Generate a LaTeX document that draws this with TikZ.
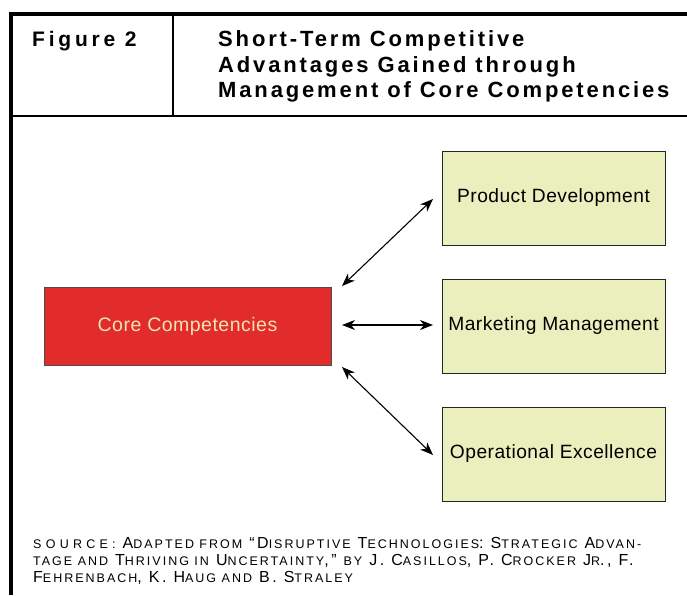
\documentclass[tikz,border=0pt]{standalone}
\usepackage{fontspec}
\setmainfont{Liberation Sans}
\newfontfamily\headfont[LetterSpace=13]{Liberation Sans}
\newfontfamily\figfont[LetterSpace=18]{Liberation Sans}
\newfontfamily\boxfont[LetterSpace=2.5]{Liberation Sans}
\newfontfamily\notefont[LetterSpace=16]{Liberation Sans}
\newfontfamily\widefont[LetterSpace=34]{Liberation Sans}
\usetikzlibrary{arrows.meta}
\definecolor{corered}{HTML}{E22B2B}
\definecolor{corecream}{HTML}{F3E2B3}
\definecolor{paleyel}{HTML}{EBEFBE}
\newcommand\lc[1]{{\fontsize{12.5}{13}\selectfont\MakeUppercase{#1}}}
\begin{document}
\begin{tikzpicture}[x=1pt,y=-1pt,
  frameline/.style={line width=4pt,black},
  ruleline/.style={line width=1.6pt,black},
  titletext/.style={anchor=base west,inner sep=0pt,font=\headfont\bfseries\fontsize{22}{22}\selectfont},
  corebox/.style={draw=black!70,line width=0.8pt,fill=corered,text=corecream,
    minimum width=287pt,minimum height=78pt,font=\boxfont\fontsize{19.5}{19.5}\selectfont},
  outbox/.style={draw=black!85,line width=1pt,fill=paleyel,
    minimum width=223pt,minimum height=94pt,font=\boxfont\fontsize{19.2}{19.2}\selectfont},
  link/.style={line width=1.1pt,{Stealth[length=13pt,width=10pt,inset=4pt]}-{Stealth[length=13pt,width=10pt,inset=4pt]}},
  srctext/.style={anchor=base west,inner sep=0pt,font=\notefont\fontsize{16}{16}\selectfont}]
\useasboundingbox (0,0) rectangle (687,595);
\fill[white] (0,0) rectangle (687,595);

% heading frame
\draw[frameline] (11,595) -- (11,14) -- (687,14);
\draw[ruleline] (11,116) -- (687,116);
\draw[ruleline] (173,14) -- (173,116);

\node[titletext,font=\figfont\bfseries\fontsize{21}{21}\selectfont] (fig) at (32,46) {Figure 2};
\node[titletext] (t1) at (218,46) {Short-Term Competitive};
\node[titletext] (t2) at (218,72) {Advantages Gained through};
\node[titletext] (t3) at (218,97) {Management of Core Competencies};

% boxes
\node[corebox] (core) at (187.5,326) {Core Competencies};
\node[outbox] (pd) at (553.5,198) {Product Development};
\node[outbox] (mm) at (553.5,326) {Marketing Management};
\node[outbox] (oe) at (553.5,454) {Operational Excellence};

% connector end points
\coordinate (c1) at (342,286);
\coordinate (c2) at (342,325);
\coordinate (c3) at (342,367);
\coordinate (p1) at (433,199);
\coordinate (p2) at (433,325);
\coordinate (p3) at (433,455);
\draw[link] (c1) -- (p1);
\draw[link] (c2) -- (p2);
\draw[link] (c3) -- (p3);

% source note
\node[srctext] (s1) at (33,548) {{\widefont\lc{source:}} A\lc{dapted from} “D\lc{isruptive} T\lc{echnologies}: S\lc{trategic} A\lc{dvan-}};
\node[srctext] (s2) at (33,565) {\lc{tage and} T\lc{hriving in} U\lc{ncertainty},” \lc{by} J. C\lc{asillos}, P. C\lc{rocker} J\lc{r}., F.};
\node[srctext] (s3) at (33,582) {F\lc{ehrenbach}, K. H\lc{aug and} B. S\lc{traley}};
\end{tikzpicture}
\end{document}
